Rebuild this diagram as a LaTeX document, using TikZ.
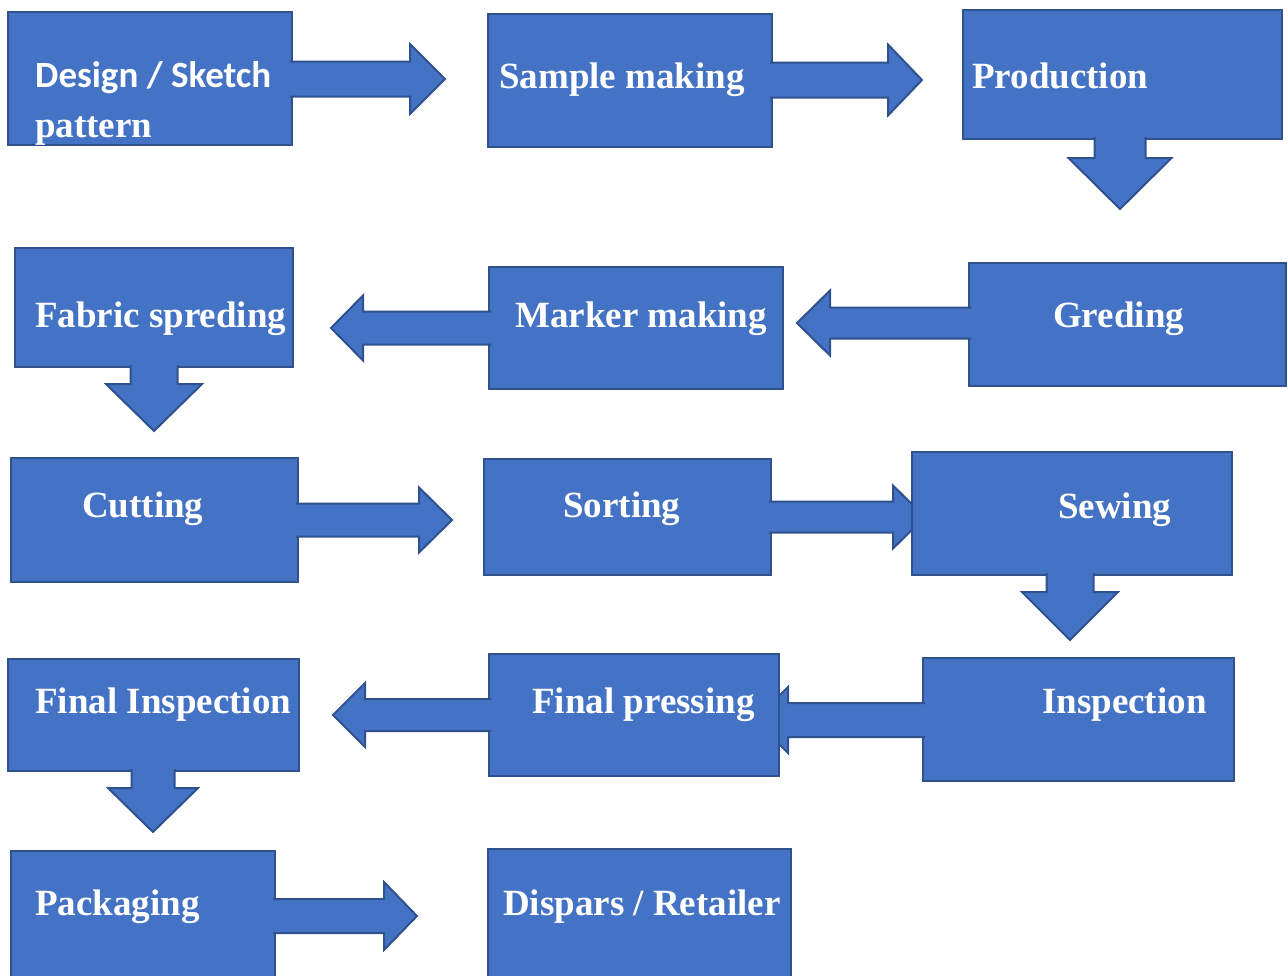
\documentclass[tikz,border=0pt]{standalone}
\usepackage{fontspec}
\setmainfont{Liberation Serif}
\newfontfamily\carlito{Carlito}
\usetikzlibrary{calc}
\definecolor{boxblue}{HTML}{4472C4}
\definecolor{edgeblue}{HTML}{2F528F}
\tikzstyle{stepbox}=[rectangle,fill=boxblue,draw=edgeblue,line width=2pt,inner sep=0pt,outer sep=0pt,anchor=north west]
\tikzstyle{steplabel}=[anchor=base west,inner sep=0pt,text=white,font=\fontsize{37}{44}\selectfont\bfseries]
\tikzstyle{blockarrow}=[fill=boxblue,draw=edgeblue,line width=2pt]

% block arrow: start, tip, shaft half width, head half width, head length
\newcommand{\flowarrow}[5]{%
  \coordinate (fa-a) at (#1);
  \coordinate (fa-s) at ($(fa-a)!-2pt!(#2)$);
  \coordinate (fa-h) at ($(#2)!#5pt!(fa-a)$);
  \filldraw[blockarrow] ($(fa-s)!#3pt!90:(#2)$) -- ($(fa-h)!#3pt!90:(#2)$)
    -- ($(fa-h)!#4pt!90:(#2)$) -- (#2) -- ($(fa-h)!#4pt!-90:(#2)$)
    -- ($(fa-h)!#3pt!-90:(#2)$) -- ($(fa-s)!#3pt!-90:(#2)$);
}

\begin{document}
\begin{tikzpicture}[x=1pt,y=-1pt]
   \useasboundingbox (0,0) rectangle (1288,975);
   \clip (0,0) rectangle (1288,975);

    % arrow tips
    \coordinate (tip1) at (445,79);
    \coordinate (tip2) at (922,80);
    \coordinate (tip3) at (1120,209);
    \coordinate (tip4) at (797,323);
    \coordinate (tip5) at (331,328);
    \coordinate (tip6) at (154,431);
    \coordinate (tip7) at (452,520);
    \coordinate (tip8) at (925,517);
    \coordinate (tip9) at (1070,640);
    \coordinate (tip10) at (755,720);
    \coordinate (tip11) at (333,715);
    \coordinate (tip12) at (153,832);
    \coordinate (tip13) at (417,916);

    % first row
    \node[stepbox,minimum width=284pt,minimum height=133pt] (design) at (8,12) {};
    \flowarrow{design.east |- tip1}{tip1}{17.5}{35}{35}
    \node[stepbox,minimum width=284pt,minimum height=133pt] (sample) at (488,14) {};
    \flowarrow{sample.east |- tip2}{tip2}{17.5}{35.5}{34}
    \node[stepbox,minimum width=319pt,minimum height=129pt] (production) at (963,10) {};
    \flowarrow{production.south -| tip3}{tip3}{25.5}{51.5}{51}

    % second row
    \node[stepbox,minimum width=317pt,minimum height=123pt] (greding) at (969,263) {};
    \flowarrow{greding.west |- tip4}{tip4}{15.5}{32.5}{33}
    \node[stepbox,minimum width=294pt,minimum height=122pt] (marker) at (489,267) {};
    \flowarrow{marker.west |- tip5}{tip5}{16.5}{32.5}{32}
    \node[stepbox,minimum width=278pt,minimum height=119pt] (fabric) at (15,248) {};
    \flowarrow{fabric.south -| tip6}{tip6}{23.5}{48}{47}

    % third row
    \node[stepbox,minimum width=287pt,minimum height=124pt] (cutting) at (11,458) {};
    \flowarrow{cutting.east |- tip7}{tip7}{16.5}{32.5}{33}
    \node[stepbox,minimum width=287pt,minimum height=116pt] (sorting) at (484,459) {};
    \flowarrow{sorting.east |- tip8}{tip8}{15.5}{31.5}{32}
    \node[stepbox,minimum width=320pt,minimum height=123pt] (sewing) at (912,452) {};
    \flowarrow{sewing.south -| tip9}{tip9}{23.5}{48}{48}

    % fourth row
    \node[stepbox,minimum width=311pt,minimum height=123pt] (inspection) at (923,658) {};
    \flowarrow{inspection.west |- tip10}{tip10}{17}{33}{33}
    \node[stepbox,minimum width=290pt,minimum height=122pt] (pressing) at (489,654) {};
    \flowarrow{pressing.west |- tip11}{tip11}{16}{32}{32}
    \node[stepbox,minimum width=291pt,minimum height=112pt] (finalinsp) at (8,659) {};
    \flowarrow{finalinsp.south -| tip12}{tip12}{21.5}{45}{44}

    % last row
    \node[stepbox,minimum width=264pt,minimum height=140pt] (packaging) at (11,851) {};
    \flowarrow{packaging.east |- tip13}{tip13}{17}{34}{33}
    \node[stepbox,minimum width=303pt,minimum height=140pt] (dispars) at (488,849) {};

    % labels
    \node[steplabel] (design-l1) at (35,87) {\carlito Design / Sketch};
    \node[steplabel] (design-l2) at (35,137) {pattern};
    \foreach \pos/\name/\label in {(499,88)/sample-l/Sample making, (972,88)/production-l/Production,
        (1053,327)/greding-l/Greding, (515,327)/marker-l/Marker making, (35,327)/fabric-l/Fabric spreding,
        (82,517)/cutting-l/Cutting, (563,517)/sorting-l/Sorting, (1058,518)/sewing-l/Sewing,
        (1042,713)/inspection-l/Inspection, (532,713)/pressing-l/Final pressing,
        (35,713)/finalinsp-l/Final Inspection, (35,915)/packaging-l/Packaging}
        \node[steplabel] (\name) at \pos {\label};
    \node[steplabel] (dispars-l) at (503,915) {Dispars / Retailer};
\end{tikzpicture}
\end{document}
